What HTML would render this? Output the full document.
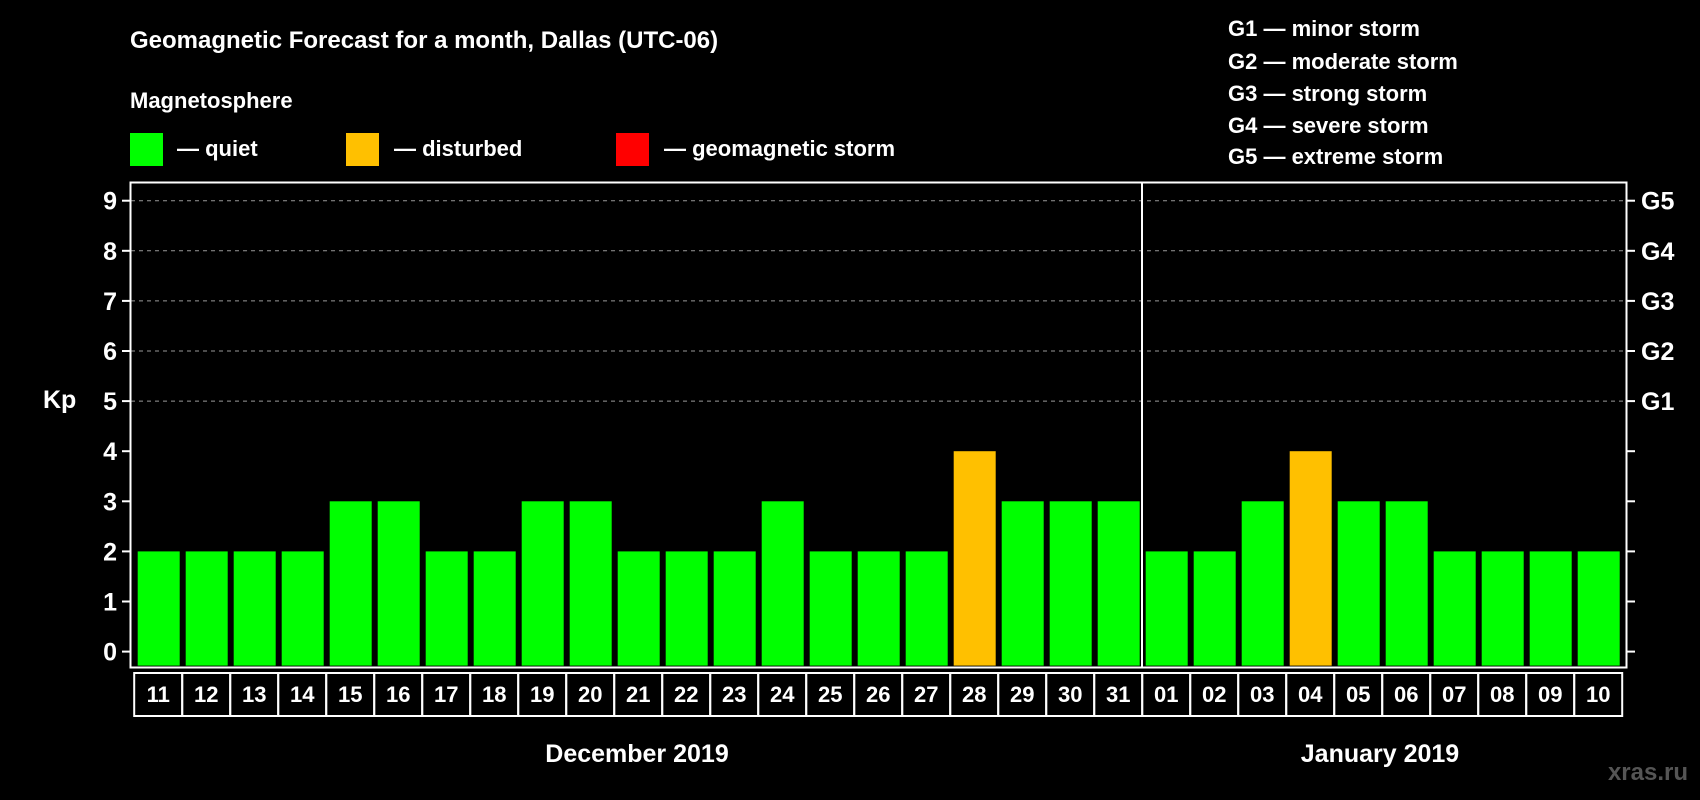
<!DOCTYPE html>
<html><head><meta charset="utf-8"><style>
html,body{margin:0;padding:0;background:#000;}
svg{display:block;font-family:"Liberation Sans",Arial,sans-serif;font-weight:bold;}
</style></head><body>
<svg id="chart" width="1700" height="800" viewBox="0 0 1700 800">
<rect width="1700" height="800" fill="#000"/>
<text x="130" y="48" fill="#fff" font-size="24">Geomagnetic Forecast for a month, Dallas (UTC-06)</text>
<text x="130" y="108" fill="#fff" font-size="22">Magnetosphere</text>
<rect x="130" y="133" width="33" height="33" fill="#00ff00"/>
<text x="177" y="156" fill="#fff" font-size="22">— quiet</text>
<rect x="346" y="133" width="33" height="33" fill="#ffc000"/>
<text x="394" y="156" fill="#fff" font-size="22">— disturbed</text>
<rect x="616" y="133" width="33" height="33" fill="#ff0000"/>
<text x="664" y="156" fill="#fff" font-size="22">— geomagnetic storm</text>
<g font-size="22" fill="#fff">
<text x="1228" y="36">G1 — minor storm</text>
<text x="1228" y="69">G2 — moderate storm</text>
<text x="1228" y="101">G3 — strong storm</text>
<text x="1228" y="133">G4 — severe storm</text>
<text x="1228" y="164">G5 — extreme storm</text>
</g>
<text x="43" y="408" fill="#fff" font-size="25">Kp</text>
<g id="grid"></g>
<g id="bars"></g>
<rect x="130.5" y="182.5" width="1496" height="485" fill="none" stroke="#fff" stroke-width="2"/>
<line x1="1142" y1="182" x2="1142" y2="667" stroke="#fff" stroke-width="2"/>
<g id="ticks"></g>
<g id="xlabels"></g>
<text x="637" y="762" fill="#fff" font-size="25" text-anchor="middle">December 2019</text>
<text x="1380" y="762" fill="#fff" font-size="25" text-anchor="middle">January 2019</text>
<text x="1688" y="780" fill="#555" font-size="24" text-anchor="end">xras.ru</text>
</svg>
<script>
const days = ["11","12","13","14","15","16","17","18","19","20","21","22","23","24","25","26","27","28","29","30","31","01","02","03","04","05","06","07","08","09","10"];
const kpValues = [2,2,2,2,3,3,2,2,3,3,2,2,2,3,2,2,2,4,3,3,3,2,2,3,4,3,3,2,2,2,2];
const yTicks = [0,1,2,3,4,5,6,7,8,9];
const gLabels = ["G1","G2","G3","G4","G5"];
const gLevels = [5,6,7,8,9];

const NS="http://www.w3.org/2000/svg";
const y0=651.6, unit=50.1, x0=137.7, pitch=48, bw=42;
function yScale(v){return y0-v*unit;}
function xScale(i){return x0+i*pitch;}
function mk(tag,attrs,parent){const e=document.createElementNS(NS,tag);for(const k in attrs)e.setAttribute(k,attrs[k]);parent.appendChild(e);return e;}
const grid=document.getElementById('grid'),bars=document.getElementById('bars'),ticks=document.getElementById('ticks'),xl=document.getElementById('xlabels');
gLevels.forEach(v=>{
  const l=mk('line',{x1:131,x2:1626,y1:yScale(v),y2:yScale(v),stroke:'#999','stroke-dasharray':'4,4','stroke-width':1},grid);
  
  
});
yTicks.forEach(v=>{
  const a=mk('line',{x1:122,x2:131,y1:yScale(v),y2:yScale(v),stroke:'#fff','stroke-width':2},ticks);
  
  
  const b=mk('line',{x1:1626,x2:1635,y1:yScale(v),y2:yScale(v),stroke:'#fff','stroke-width':2},ticks);
  
  
  const t=mk('text',{x:117,y:yScale(v)+9,fill:'#fff','font-size':25,'text-anchor':'end'},ticks);
  t.textContent=v;
  
  
});
gLabels.forEach((g,i)=>{
  const t=mk('text',{x:1641,y:yScale(gLevels[i])+9,fill:'#fff','font-size':25},ticks);
  t.textContent=g;
  
  
});
kpValues.forEach((v,i)=>{
  const col=v>=5?'#ff0000':(v>=4?'#ffc000':'#00ff00');
  const r=mk('rect',{x:xScale(i),y:yScale(v),width:bw,height:yScale(0)-yScale(v)+14,fill:col},bars);
  
  
  const c=mk('rect',{x:xScale(i)-3.5,y:673,width:pitch,height:43,fill:'none',stroke:'#fff','stroke-width':2},xl);
  
  
  const t=mk('text',{x:xScale(i)-3.5+pitch/2,y:702,fill:'#fff','font-size':22,'text-anchor':'middle'},xl);
  t.textContent=days[i];
  
  
});
</script>
</body></html>
